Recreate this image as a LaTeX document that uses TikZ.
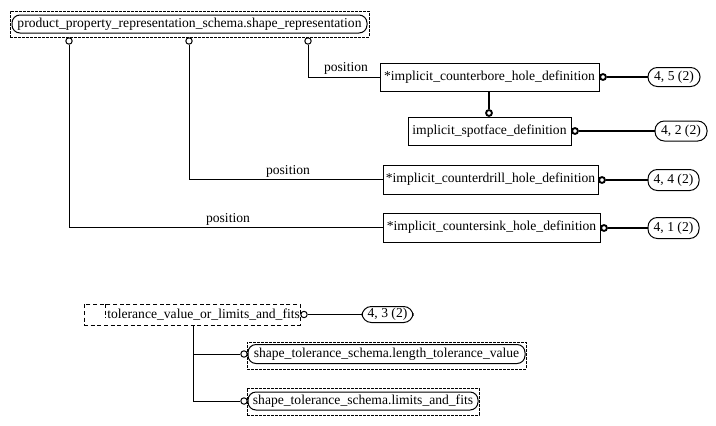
\documentclass[tikz,border=0pt]{standalone}
\usepackage{fontspec}
\setmainfont{Liberation Serif}
\begin{document}
\begin{tikzpicture}[x=0.75pt,y=-0.75pt,
  every node/.style={inner sep=0pt, font=\fontsize{10.2}{12}\selectfont},
  ent/.style={draw, line width=0.75pt},
  dbox/.style={draw, dashed, dash pattern=on 2pt off 1pt, line width=0.6pt},
  rbox/.style={draw, rounded corners=6pt, line width=0.75pt},
  oval/.style={draw, rounded corners=7pt, line width=0.75pt},
  thinc/.style={draw, circle, minimum size=4.8pt, line width=0.75pt, fill=white},
  thickc/.style={draw, circle, minimum size=4.4pt, line width=1.4pt, fill=white},
  conn/.style={line width=0.75pt},
  tconn/.style={line width=1.6pt},
  lbl/.style={anchor=south}
]
\useasboundingbox (0,0) rectangle (716,425);

% top schema node
\node[dbox, minimum width={359*0.75pt}, minimum height={26*0.75pt}] (topd) at (189.5,24) {};
\node[rbox, minimum width={355*0.75pt}, minimum height={18*0.75pt}] (top) at (189.5,24) {product\_property\_representation\_schema.shape\_representation};
\node[thinc] (t1) at (69,41) {};
\node[thinc] (t2) at (189,41) {};
\node[thinc] (t3) at (308,41) {};

% entity boxes
\node[ent, minimum width={219*0.75pt}, minimum height={28*0.75pt}] (cb) at (489.5,77) {*implicit\_counterbore\_hole\_definition};
\node[ent, minimum width={163*0.75pt}, minimum height={28*0.75pt}] (sf) at (489.5,131) {implicit\_spotface\_definition};
\node[ent, minimum width={215*0.75pt}, minimum height={29*0.75pt}] (cd) at (490.5,179.5) {*implicit\_counterdrill\_hole\_definition};
\node[ent, minimum width={217*0.75pt}, minimum height={29*0.75pt}] (cs) at (491.5,227.5) {*implicit\_countersink\_hole\_definition};

% page reference ovals
\node[oval, minimum width={52*0.75pt}, minimum height={19*0.75pt}] (o45) at (674,77) {4, 5 (2)};
\node[oval, minimum width={52*0.75pt}, minimum height={20*0.75pt}] (o42) at (681,131) {4, 2 (2)};
\node[oval, minimum width={51*0.75pt}, minimum height={21*0.75pt}] (o44) at (673.5,180) {4, 4 (2)};
\node[oval, minimum width={51*0.75pt}, minimum height={21*0.75pt}] (o41) at (673.5,228) {4, 1 (2)};

% thin connectors from top node
\draw[conn] (t3.south) |- (cb.west);
\draw[conn] (t2.south) |- (cb.west |- cd.west) -- (cd.west);
\draw[conn] (t1.south) |- (cs.west);
\node[lbl] (p1) at (346,75) {position};
\node[lbl] (p2) at (288,178) {position};
\node[lbl] (p3) at (228,226) {position};

% thick connectors
\node[thickc] (ccb) at (603,77) {};
\node[thickc] (csft) at (489,113) {};
\node[thickc] (csf) at (575,131) {};
\node[thickc] (ccd) at (602,180) {};
\node[thickc] (ccs) at (604,228) {};
\draw[tconn] (ccb.east) -- (o45.west);
\draw[tconn] (csft.north) -- (csft.north |- cb.south);
\draw[tconn] (csf.east) -- (o42.west);
\draw[tconn] (ccd.east) -- (o44.west);
\draw[tconn] (ccs.east) -- (o41.west);

% select type
\node[dbox, dash pattern=on 3pt off 2pt, minimum width={216*0.75pt}, minimum height={21*0.75pt}] (tol) at (192,314.5) {};
\draw[dbox, dash pattern=on 3pt off 2pt] (105,304) -- (105,318);
\node[anchor=west] (toltxt) at (107,314.5) {tolerance\_value\_or\_limits\_and\_fits};
\node[thinc] (ctol) at (304,314.5) {};
\node[oval, minimum width={51*0.75pt}, minimum height={16*0.75pt}] (o43) at (387.5,314.5) {4, 3 (2)};
\draw[conn] (ctol.east) -- (o43.west);

\node[dbox, minimum width={279*0.75pt}, minimum height={27*0.75pt}] (ltvd) at (386.5,355.5) {};
\node[rbox, minimum width={277*0.75pt}, minimum height={19*0.75pt}] (ltv) at (386.5,354) {shape\_tolerance\_schema.length\_tolerance\_value};
\node[dbox, minimum width={232*0.75pt}, minimum height={27*0.75pt}] (lafd) at (363,401.5) {};
\node[rbox, minimum width={230*0.75pt}, minimum height={18*0.75pt}] (laf) at (363,401) {shape\_tolerance\_schema.limits\_and\_fits};
\node[thinc] (cl1) at (244,354) {};
\node[thinc] (cl2) at (244,401) {};
\coordinate (tb) at (193,325);
\draw[conn] (tb) |- (cl1.west);
\draw[conn] (tb) |- (cl2.west);
\end{tikzpicture}
\end{document}
